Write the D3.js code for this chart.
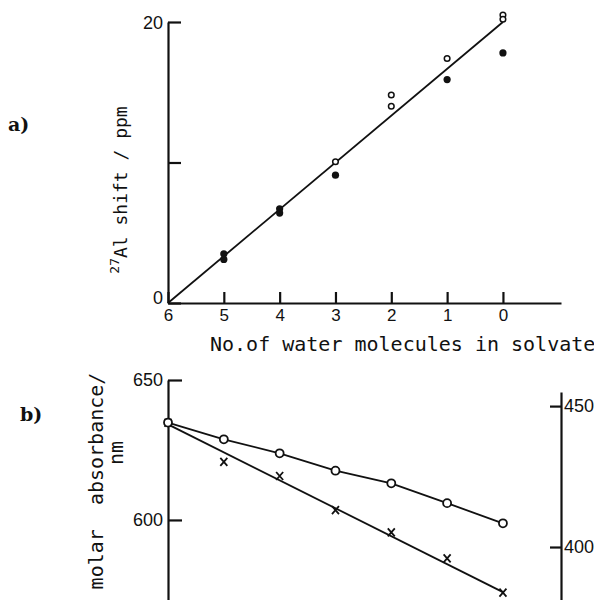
<!DOCTYPE html>
<html>
<head>
<meta charset="utf-8">
<script src="https://cdn.jsdelivr.net/npm/d3@7"></script>
<style>
  body { margin: 0; background: #fff; }
  svg { display: block; }
  .axis path, .axis line { stroke: #111; stroke-width: 2.2; }
  .axis text { font-family: "Liberation Sans", Arial, sans-serif; fill: #111; }
  .title { font-family: "DejaVu Sans Mono", monospace; fill: #111; white-space: pre; }
  .panel { font-family: "DejaVu Serif", serif; font-size: 19px; font-weight: bold; fill: #111; }
</style>
</head>
<body>
<div id="chart"></div>
<script>
var width = 594,
    height = 600;

// number of water molecules (x positions, shared by both panels)
var waterTicks = [6, 5, 4, 3, 2, 1, 0];

// panel a: 27Al shift, open and filled symbols
var openN = [3, 2, 2, 1, 0, 0];
var openShift = [10.05, 14.8, 14.0, 17.4, 20.5, 20.2];
var filledN = [5, 5, 4, 4, 3, 1, 0];
var filledShift = [3.5, 3.1, 6.7, 6.4, 9.1, 15.9, 17.8];
var fitN = [6, 0];
var fitShift = [0, 20];
var shiftTicks = [0, 10, 20];
var shiftLabels = ["0", "", "20"];

// panel b: band positions, circles on left axis, crosses on right axis
var bandN = [6, 5, 4, 3, 2, 1, 0];
var circleNm = [634.8, 628.8, 623.8, 617.6, 613.1, 606.0, 598.8];
var crossNm = [444.1, 430.2, 425.2, 413.1, 405.2, 396.0, 383.8];
var crossFitNm = [443.5, 384];
var leftTicks = [600, 650];
var rightTicks = [400, 450];

var svg = d3.select("#chart")
            .append("svg")
              .attr("width", width)
              .attr("height", height);

// scales
var x = d3.scaleLinear()
          .domain([6, -1.04])
          .range([168, 561]);

var yA = d3.scaleLinear()
           .domain([0, 20])
           .range([303, 22]);

var yL = d3.scaleLinear()
           .domain([571.4, 650])
           .range([600, 380]);

var yR = d3.scaleLinear()
           .domain([381.2, 455])
           .range([600, 392]);



// panel a axes
svg.append("g")
    .attr("class", "axis")
    .attr("transform", "translate(0,303)")
    .call(d3.axisBottom(x).tickValues(waterTicks).tickFormat(d3.format("d"))
            .tickSizeInner(-11).tickSizeOuter(0).tickPadding(6))
   .selectAll("text")
    .style("font-size", "17px");

var axisA = svg.append("g")
    .attr("class", "axis")
    .attr("transform", "translate(168,0)")
    .call(d3.axisLeft(yA).tickValues(shiftTicks)
            .tickFormat(function(d, i) { return shiftLabels[i]; })
            .tickSizeInner(-13).tickSizeOuter(0).tickPadding(5));
axisA.selectAll("text")
    .style("font-size", "18px")
    .attr("dy", function(d) { return d === 0 ? "0em" : "0.35em"; });

// fit line
var lineA = d3.line()
              .x(function(d) { return x(d[0]); })
              .y(function(d) { return yA(d[1]); });

svg.append("path")
    .datum(d3.zip(fitN, fitShift))
    .attr("d", lineA)
    .attr("fill", "none")
    .attr("stroke", "#111")
    .attr("stroke-width", 1.8);

svg.selectAll(".open-a")
    .data(d3.zip(openN, openShift))
  .enter().append("circle")
    .attr("class", "open-a")
    .attr("cx", function(d) { return x(d[0]); })
    .attr("cy", function(d) { return yA(d[1]); })
    .attr("r", 2.8)
    .attr("fill", "#fff")
    .attr("stroke", "#111")
    .attr("stroke-width", 1.5);

svg.selectAll(".filled-a")
    .data(d3.zip(filledN, filledShift))
  .enter().append("circle")
    .attr("class", "filled-a")
    .attr("cx", function(d) { return x(d[0]); })
    .attr("cy", function(d) { return yA(d[1]); })
    .attr("r", 3.6)
    .attr("fill", "#111");

// panel a titles
var yTitleA = svg.append("text")
    .attr("class", "title")
    .attr("transform", "translate(125,190) rotate(-90)")
    .attr("text-anchor", "middle")
    .style("font-size", "18px");
yTitleA.append("tspan").attr("dy", "-0.45em").style("font-size", "13px").text("27");
yTitleA.append("tspan").attr("dy", "0.45em").text("Al shift / ppm");

svg.append("text")
    .attr("class", "title")
    .attr("x", 210)
    .attr("y", 351)
    .style("font-size", "20px")
    .text("No.of water molecules in solvate");

svg.append("text").attr("class", "panel").attr("x", 8).attr("y", 131).text("a)");
svg.append("text").attr("class", "panel").attr("x", 20).attr("y", 421).text("b)");



// panel b axes
svg.append("g")
    .attr("class", "axis")
    .attr("transform", "translate(168,0)")
    .call(d3.axisLeft(yL).tickValues(leftTicks).tickSizeInner(-14).tickSizeOuter(0).tickPadding(5))
   .selectAll("text")
    .style("font-size", "18px");

svg.append("g")
    .attr("class", "axis")
    .attr("transform", "translate(561,0)")
    .call(d3.axisRight(yR).tickValues(rightTicks).tickSizeInner(-11).tickSizeOuter(0).tickPadding(3))
   .selectAll("text")
    .style("font-size", "18px");

// circle series
var lineL = d3.line()
              .x(function(d) { return x(d[0]); })
              .y(function(d) { return yL(d[1]); });

svg.append("path")
    .datum(d3.zip(bandN, circleNm))
    .attr("d", lineL)
    .attr("fill", "none")
    .attr("stroke", "#111")
    .attr("stroke-width", 1.8);

// cross fit line
var lineR = d3.line()
              .x(function(d) { return x(d[0]); })
              .y(function(d) { return yR(d[1]); });

svg.append("path")
    .datum(d3.zip(fitN, crossFitNm))
    .attr("d", lineR)
    .attr("fill", "none")
    .attr("stroke", "#111")
    .attr("stroke-width", 1.8);

svg.selectAll(".cross")
    .data(d3.zip(bandN, crossNm))
  .enter().append("path")
    .attr("class", "cross")
    .attr("transform", function(d) { return "translate(" + x(d[0]) + "," + yR(d[1]) + ")"; })
    .attr("d", "M-3.5,-4L3.5,4M3.5,-4L-3.5,4")
    .attr("fill", "none")
    .attr("stroke", "#111")
    .attr("stroke-width", 1.8);

svg.selectAll(".open-b")
    .data(d3.zip(bandN, circleNm))
  .enter().append("circle")
    .attr("class", "open-b")
    .attr("cx", function(d) { return x(d[0]); })
    .attr("cy", function(d) { return yL(d[1]); })
    .attr("r", 4)
    .attr("fill", "#fff")
    .attr("stroke", "#111")
    .attr("stroke-width", 1.8);

// panel b y title (two lines)
svg.append("text")
    .attr("class", "title")
    .attr("transform", "translate(103,481) rotate(-90)")
    .attr("text-anchor", "middle")
    .style("font-size", "20px")
    .text("molar  absorbance/");

svg.append("text")
    .attr("class", "title")
    .attr("transform", "translate(123,453) rotate(-90)")
    .attr("text-anchor", "middle")
    .style("font-size", "20px")
    .text("nm");
</script>
</body>
</html>
